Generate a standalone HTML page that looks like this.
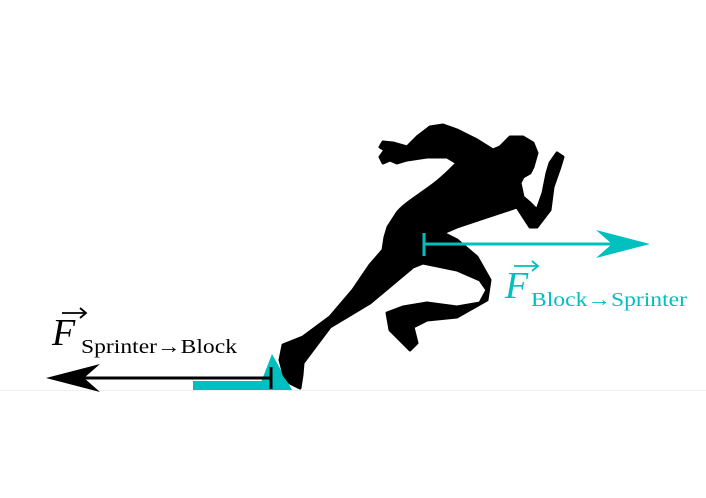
<!DOCTYPE html>
<html><head><style>
html,body{margin:0;padding:0;background:#fff;}
svg{display:block}
text{font-family:"Liberation Serif",serif;}
</style></head><body>
<svg width="706" height="498" viewBox="0 0 706 498" xmlns="http://www.w3.org/2000/svg">
<line x1="0" y1="390.5" x2="706" y2="390.5" stroke="#f0f0f0" stroke-width="1"/>
<rect x="193" y="381" width="85" height="9" fill="#00bfbf"/>
<polygon points="258,390 292,390 272,354" fill="#00bfbf"/>
<path fill="#000" stroke="#000" stroke-width="3" stroke-linejoin="round" d="M457,163 C448,172 440,180 430,187 C415,198 403,205 397,213 L388,227 L385,237 L383,250 L370,265 L353,290 L330,317 L303,337 L283,345 L280,360 L284,375 L290,383 L300,388 L302,375 L303,363 L330,327 L370,303 L413,267 L423,263 L457,270 L480,280 L487,290 L480,303 L457,307 L427,303 L403,307 L387,313 L390,330 L410,350 L417,343 L413,327 L427,320 L457,317 L487,300 L490,280 L477,257 L457,240 L443,233 L457,227 L487,217 L517,207 L530,227 L537,227 L550,210 L553,187 L560,167 L563,157 L557,153 L550,163 L547,173 L543,193 L537,210 L530,203 L523,197 L520,183 L523,177 L530,173 L533,167 L537,153 L533,143 L523,137 L510,137 L500,147 L493,150 L477,140 L457,130 L443,125 L430,127 L417,137 L407,147 L393,143 L383,142 L380,147 L385,150 L380,157 L383,163 L390,160 L397,163 L407,160 L427,157 L447,157 Z"/>
<line x1="424" y1="244" x2="622" y2="244" stroke="#00bfbf" stroke-width="3"/>
<line x1="424" y1="233" x2="424" y2="256" stroke="#00bfbf" stroke-width="3"/>
<path d="M650,244 L596,230 L612,244 L596,258 Z" fill="#00bfbf"/>
<line x1="80" y1="378" x2="272" y2="378" stroke="#000" stroke-width="3"/>
<line x1="271" y1="367" x2="271" y2="389" stroke="#000" stroke-width="3"/>
<path d="M46,378 L100,364 L84,378 L100,392 Z" fill="#000"/>
<g fill="#000">
<text x="52" y="345" font-size="38" font-style="italic">F</text>
<path d="M62,313 L85,313 M80,308 L86,313 L80,318" stroke="#000" stroke-width="1.8" fill="none"/>
<text x="81" y="353" font-size="20" textLength="156" lengthAdjust="spacingAndGlyphs">Sprinter→Block</text>
</g>
<g fill="#00bfbf">
<text x="505" y="298" font-size="38" font-style="italic">F</text>
<path d="M514,266 L537,266 M532,261 L538,266 L532,271" stroke="#00bfbf" stroke-width="1.8" fill="none"/>
<text x="531" y="306" font-size="20" textLength="156" lengthAdjust="spacingAndGlyphs">Block→Sprinter</text>
</g>
</svg>
</body></html>
